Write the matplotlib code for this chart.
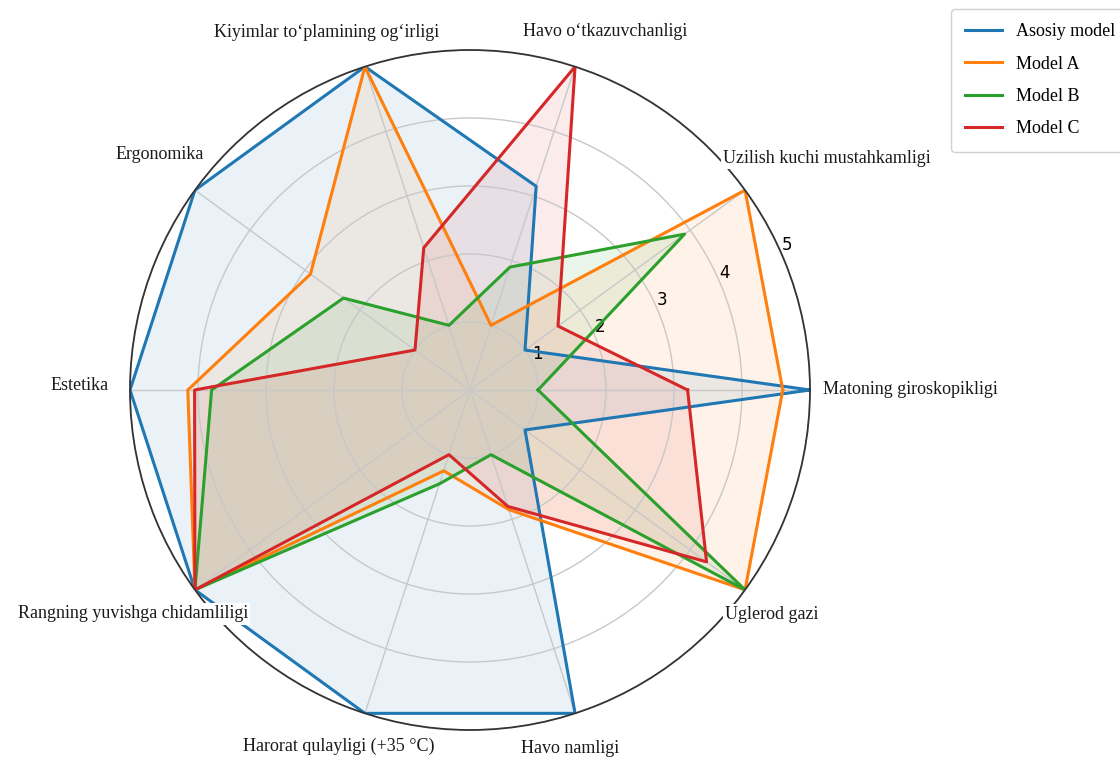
import numpy as np
import matplotlib
matplotlib.use("Agg")
import matplotlib.pyplot as plt

# categories, counter-clockwise from 0 degrees
categories = ["Matoning giroskopikligi", "Uzilish kuchi mustahkamligi",
              "Havo o‘tkazuvchanligi", "Kiyimlar to‘plamining og‘irligi",
              "Ergonomika", "Estetika", "Rangning yuvishga chidamliligi",
              "Harorat qulayligi (+35 °C)", "Havo namligi", "Uglerod gazi"]

series_names = ["Asosiy model", "Model A", "Model B", "Model C"]
asosiy = [5, 1, 3.15, 5, 5, 5, 5, 5, 5, 1]
model_a = [4.6, 5, 1, 5, 2.9, 4.15, 5, 1.25, 1.85, 5]
model_b = [1, 3.9, 1.9, 1, 2.3, 3.8, 5, 1.45, 1, 5]
model_c = [3.2, 1.6, 5, 2.2, 1, 4.05, 5, 1, 1.8, 4.3]
r_ticks = [1, 2, 3, 4, 5]

colors = ["#1f77b4", "#ff7f0e", "#2ca02c", "#d62728"]

# label placement (angle in degrees, radius in data units), text centred there
label_theta = [0, 33.0, 69.3, 111.8, 142.8, 179.3, 213.6, 249.8, 285.6, 323.4]
label_r = [6.47, 6.26, 5.63, 5.67, 5.72, 5.74, 5.95, 5.58, 5.47, 5.53]

angles = np.linspace(0, 2 * np.pi, len(categories), endpoint=False)

fig = plt.figure(figsize=(11.2, 7.6), dpi=100)
ax = fig.add_axes([130 / 1120, 30 / 760, 680 / 1120, 680 / 760], polar=True)

handles = []
for name, vals, c in zip(series_names, [asosiy, model_a, model_b, model_c], colors):
    v = np.array(vals + vals[:1])
    a = np.append(angles, angles[0])
    h, = ax.plot(a, v, color=c, lw=2.2, label=name)
    ax.fill(a, v, color=c, alpha=0.09)
    handles.append(h)

ax.set_ylim(0, 5)
ax.set_xticks(angles)
ax.set_xticklabels([])
ax.set_yticks(r_ticks)
ax.set_yticklabels([str(t) for t in r_ticks], fontsize=12)
ax.set_rlabel_position(23.5)
ax.grid(color="#c8c8c8", lw=1)
ax.spines["polar"].set_color("#333333")
ax.spines["polar"].set_linewidth(1.3)

for lab, th, r in zip(categories, label_theta, label_r):
    ax.text(np.deg2rad(th), r, lab, ha="center", va="center",
            fontsize=13, family="Liberation Serif", color="#1a1a1a", clip_on=False,
            zorder=10, bbox=dict(facecolor="white", edgecolor="none", pad=1.5))

fig.legend(handles=handles, loc="upper left", bbox_to_anchor=(951 / 1120, 1 - 9 / 760),
           prop={"family": "Liberation Serif", "size": 13}, labelspacing=0.85,
           borderpad=0.8, handlelength=2.0, borderaxespad=0, framealpha=1,
           edgecolor="#d0d0d0")

fig.savefig("out.png", dpi=100)
